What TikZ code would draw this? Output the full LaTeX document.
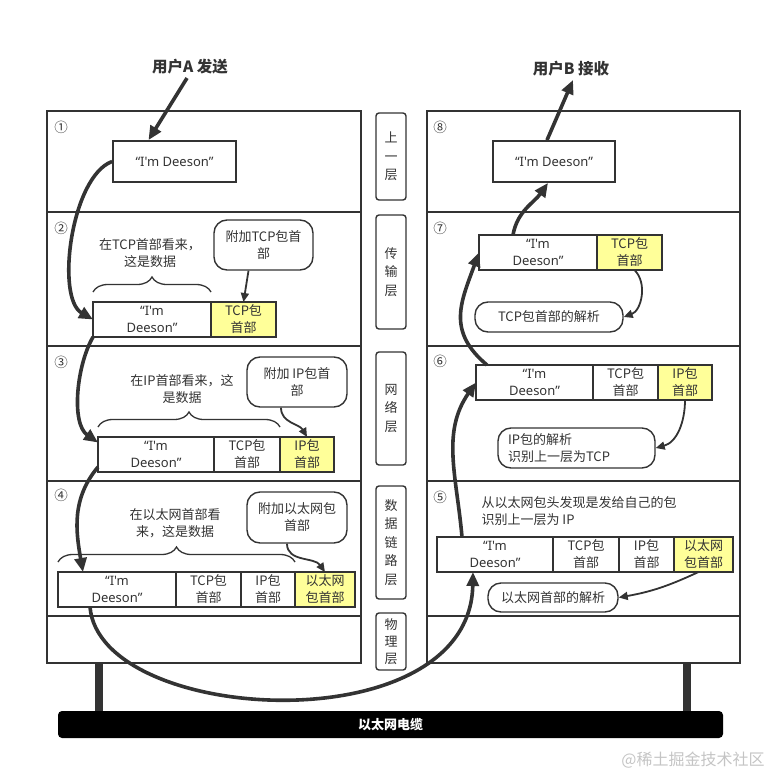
\documentclass[tikz,border=0pt]{standalone}
\usepackage{fontspec}
\setmainfont{Noto Sans CJK SC}
\newfontfamily\msgfont{Noto Sans}
\usetikzlibrary{positioning,arrows.meta,decorations.pathreplacing}

\definecolor{linegray}{HTML}{333333}
\definecolor{hdryellow}{HTML}{FFFF99}
\definecolor{markgray}{HTML}{C4C4C4}

\tikzset{
	stackline/.style={draw=linegray, line width=1.9pt},
	cell/.style={draw=linegray, line width=1.8pt, minimum height=35pt, inner sep=0pt, outer sep=0pt, align=center},
	datacell/.style={cell, font=\fontsize{13}{17}\selectfont\msgfont},
	hdr/.style={cell, fill=hdryellow},
	msgbox/.style={draw=linegray, line width=1.8pt, minimum height=41pt, inner sep=0pt, font=\fontsize{13}{17}\selectfont\msgfont},
	bubble/.style={draw=linegray, line width=1.4pt, rounded corners=13pt, inner sep=0pt, align=center},
	layerbox/.style={draw=linegray, line width=1.4pt, rounded corners=3pt, minimum width=30pt, inner sep=0pt, align=center, font=\fontsize{13}{18.5}\selectfont},
	userlabel/.style={font=\fontsize{15.5}{18}\selectfont\bfseries},
	stepnum/.style={font=\fontsize{13.5}{15}\selectfont},
	bigarrow/.style={draw=linegray, line width=3.6pt, -{Triangle[length=14pt,width=12pt]}},
	smallarrow/.style={draw=linegray, line width=1.8pt, -{Triangle[length=9pt,width=8pt]}},
	databrace/.style={draw=linegray, line width=1.3pt, decorate, decoration={brace, amplitude=15pt, raise=10pt}},
}

\begin{document}
\begin{tikzpicture}[x=1pt, y=-1pt, font=\fontsize{13}{17}\selectfont, text=linegray]

	\useasboundingbox (0,0) rectangle (772,776);

	% Piles
	\draw[stackline] (47,111) rectangle (361,663);
	\draw[stackline] (47,212) -- (361,212);
	\draw[stackline] (47,346) -- (361,346);
	\draw[stackline] (47,481) -- (361,481);
	\draw[stackline] (47,616) -- (361,616);

	\draw[stackline] (427,111) rectangle (740,663);
	\draw[stackline] (427,212) -- (740,212);
	\draw[stackline] (427,346) -- (740,346);
	\draw[stackline] (427,481) -- (740,481);
	\draw[stackline] (427,616) -- (740,616);

	% Capes
	\node[layerbox, minimum height=87pt] (l1) at (391,156.5) {上\\一\\层};
	\node[layerbox, minimum height=114pt] (l2) at (391,272) {传\\输\\层};
	\node[layerbox, minimum height=113pt] (l3) at (391,408.5) {网\\络\\层};
	\node[layerbox, minimum height=113pt] (l4) at (391,542.5) {数\\据\\链\\路\\层};
	\node[layerbox, minimum height=57pt, font=\fontsize{13}{17}\selectfont] (l5) at (391,641.5) {物\\理\\层};

	% Cable
	\draw[linegray, line width=8pt] (98.5,663) -- (98.5,712);
	\draw[linegray, line width=8pt] (687,663) -- (687,712);
	\node[fill=black, rounded corners=4pt, minimum width=665pt, minimum height=27pt, inner sep=0pt,
		text=white, font=\fontsize{13}{15}\selectfont\bfseries] (cable) at (390.5,724.5) {以太网电缆};

	% Emissor
	\node[userlabel] (userA) at (190,67) {用户A 发送};
	\node[stepnum] (n1) at (61,127) {①};
	\node[stepnum] (n2) at (61,228) {②};
	\node[stepnum] (n3) at (61,362) {③};
	\node[stepnum] (n4) at (61,495) {④};

	\node[msgbox, minimum width=123pt] (m1) at (174.5,161.5) {“I'm Deeson”};

	\node[align=center] (note2) at (150,253.5) {在TCP首部看来，\\这是数据};
	\node[bubble, minimum width=99pt, minimum height=50pt] (b2) at (263.5,245) {附加TCP包首\\部};
	\node[datacell, minimum width=118pt, anchor=west] (d2) at (93,319.5) {“I'm\\Deeson”};
	\node[hdr, minimum width=65pt, right=0pt of d2] (h2) {TCP包\\首部};

	\node[align=center] (note3) at (182,389.5) {在IP首部看来，这\\是数据};
	\node[bubble, minimum width=100pt, minimum height=50pt] (b3) at (297,382) {附加 IP包首\\部};
	\node[datacell, minimum width=116pt, anchor=west] (d3) at (98,454.5) {“I'm\\Deeson”};
	\node[cell, minimum width=66pt, right=0pt of d3] (t3) {TCP包\\首部};
	\node[hdr, minimum width=54pt, right=0pt of t3] (h3) {IP包\\首部};

	\node[align=center] (note4) at (175,523.5) {在以太网首部看\\来，这是数据};
	\node[bubble, minimum width=100pt, minimum height=51pt] (b4) at (297,517.5) {附加以太网包\\首部};
	\node[datacell, minimum width=118pt, anchor=west] (d4) at (58,589.5) {“I'm\\Deeson”};
	\node[cell, minimum width=65pt, right=0pt of d4] (t4) {TCP包\\首部};
	\node[cell, minimum width=54pt, right=0pt of t4] (i4) {IP包\\首部};
	\node[hdr, minimum width=60pt, right=0pt of i4] (h4) {以太网\\包首部};

	\draw[databrace] (d2.north west) -- (d2.north east);
	\draw[databrace] (d3.north west) -- (t3.north east);
	\draw[databrace] (d4.north west) -- (i4.north east);

	% Receptor
	\node[userlabel] (userB) at (571,69) {用户B 接收};
	\node[stepnum] (n8) at (440,127) {⑧};
	\node[stepnum] (n7) at (440,228) {⑦};
	\node[stepnum] (n6) at (440,361) {⑥};
	\node[stepnum] (n5) at (440,497) {⑤};

	\node[msgbox, minimum width=122pt] (m8) at (554,161.5) {“I'm Deeson”};

	\node[datacell, minimum width=118pt, anchor=west] (e7) at (479,252.5) {“I'm\\Deeson”};
	\node[hdr, minimum width=65pt, right=0pt of e7] (h7) {TCP包\\首部};
	\node[bubble, minimum width=148pt, minimum height=30pt] (b7) at (549,317) {TCP包首部的解析};

	\node[datacell, minimum width=117pt, anchor=west] (e6) at (476,382.5) {“I'm\\Deeson”};
	\node[cell, minimum width=65pt, right=0pt of e6] (t6) {TCP包\\首部};
	\node[hdr, minimum width=54pt, right=0pt of t6] (h6) {IP包\\首部};
	\node[bubble, minimum width=157pt, minimum height=40pt, text width=137pt, align=left] (b6) at (576.5,448) {IP包的解析\\识别上一层为TCP};

	\node[anchor=west, align=left] (note5) at (478,511) {从以太网包头发现是发给自己的包\\识别上一层为 IP};
	\node[datacell, minimum width=116pt, anchor=west] (e5) at (437,554.5) {“I'm\\Deeson”};
	\node[cell, minimum width=66pt, right=0pt of e5] (t5) {TCP包\\首部};
	\node[cell, minimum width=55pt, right=0pt of t5] (i5) {IP包\\首部};
	\node[hdr, minimum width=59pt, right=0pt of i5] (h5) {以太网\\包首部};
	\node[bubble, minimum width=130pt, minimum height=29pt] (b5) at (553,597.5) {以太网首部的解析};

	% Fletxes
	\draw[bigarrow] ([xshift=-3pt]userA.south) -- ([xshift=-26pt]m1.north);
	\draw[bigarrow] (m1.west) to[out=200, in=150, looseness=0.7] (d2.west);
	\draw[bigarrow] (d2.south west) to[out=240, in=145, looseness=0.8] ([yshift=12pt]d3.west);
	\draw[bigarrow] ([yshift=5pt]d3.south west) to[out=230, in=100] ([xshift=25pt]d4.north west);
	\draw[bigarrow] ([xshift=32pt]d4.south west) .. controls (100,725) and (470,745) .. ([xshift=36pt]e5.south west);
	\draw[bigarrow] ([xshift=25pt]e5.north west) to[out=95, in=235] (e6.west);
	\draw[bigarrow] ([xshift=11pt]e6.north west) to[out=140, in=250, looseness=1.2] (e7.west);
	\draw[bigarrow] ([xshift=34pt]e7.north west) to[out=80, in=235] ([xshift=-6pt]m8.south);
	\draw[bigarrow] ([xshift=-7pt]m8.north) -- ([xshift=2pt]userB.south);

	\draw[smallarrow] ([xshift=-15pt]b2.south) -- (h2.north);
	\draw[smallarrow] ([xshift=-16pt]b3.south) to[out=-90, in=120] (h3.north);
	\draw[smallarrow] ([xshift=-10pt]b4.south) to[out=-90, in=125] (h4.north);
	\draw[smallarrow] ([xshift=5pt]h7.south) to[out=-45, in=20] (b7.east);
	\draw[smallarrow] (h6.south) to[out=-90, in=15] (b6.east);
	\draw[smallarrow] ([xshift=-5pt]h5.south) to[out=-155, in=10] (b5.east);

	\node[text=markgray, font=\fontsize{16}{18}\selectfont] (mark) at (693,760) {@稀土掘金技术社区};

\end{tikzpicture}
\end{document}
